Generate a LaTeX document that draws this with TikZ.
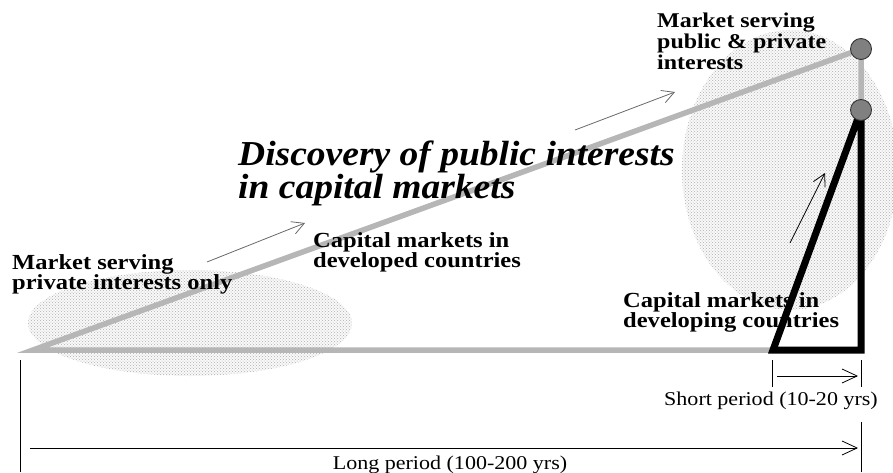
\documentclass[tikz,border=0pt]{standalone}
\usepackage{fontspec}
\setmainfont{Liberation Serif}
\usetikzlibrary{arrows.meta,patterns}
\definecolor{trackgray}{RGB}{182,182,182}
\definecolor{knobgray}{RGB}{128,128,128}
\definecolor{hintgray}{RGB}{105,105,105}
\definecolor{dotgray}{RGB}{175,175,175}
\begin{document}
\begin{tikzpicture}[x=1pt,y=1pt,
    track/.style={line width=5.5pt, color=trackgray},
    knob/.style={circle, draw=black!80, line width=0.9pt, fill=knobgray, minimum size=21pt, inner sep=0pt},
    hint/.style={-{Straight Barb[length=12pt,width=13pt]}, line width=0.8pt},
    measure/.style={line width=0.8pt},
    lab/.style={font=\fontsize{21.5}{20}\selectfont\bfseries, align=left, anchor=base west, inner sep=0pt, xscale=1.14, transform shape},
    per/.style={font=\fontsize{19.5}{20}\selectfont, anchor=base, inner sep=0pt, xscale=1.13, transform shape}]
    \useasboundingbox (0,0) rectangle (893,472);

    % Zone puntinate
    \fill[gray!5] (190,149) ellipse [x radius=162, y radius=53];
    \fill[pattern=crosshatch dots, pattern color=dotgray] (190,149) ellipse [x radius=162, y radius=53];
    \fill[gray!5] (790,302) ellipse [x radius=108, y radius=140];
    \fill[pattern=crosshatch dots, pattern color=dotgray] (790,302) ellipse [x radius=108, y radius=140];

    % Punti
    \coordinate (O) at (33,122);
    \coordinate (C) at (773,122);
    \coordinate (D) at (861,122);
    \coordinate (P) at (861,423);
    \coordinate (Q) at (861,362);

    % Percorso grigio
    \draw[track] (C) -- (O) -- (P) -- (Q);

    % Triangolo nero
    \draw[line width=7pt, miter limit=3] (C) -- (Q) -- (D) -- cycle;

    % Cerchi
    \node[knob] (Pk) at (P) {};
    \node[knob] (Qk) at (Q) {};

    % Frecce sottili
    \coordinate (A1) at (207,210);
    \coordinate (B1) at (305,249);
    \draw[hint, color=hintgray] (A1) -- (B1);
    \coordinate (A2) at (575,342);
    \coordinate (B2) at (675,380);
    \draw[hint, color=hintgray] (A2) -- (B2);
    \coordinate (A3) at (790,229);
    \coordinate (B3) at (825,299);
    \draw[hint] (A3) -- (B3);

    % Testi (base = ultima riga)
    \node[lab] (privtext) at (12,183) {Market serving\\private interests only};
    \node[lab] (devtext) at (313,205) {Capital markets in\\developed countries};
    \node[lab, font=\fontsize{35}{31}\selectfont\bfseries\itshape, xscale=0.94] (disctext) at (238,274) {Discovery of public interests\\in capital markets};
    \node[lab, font=\fontsize{21}{21}\selectfont\bfseries] (pubtext) at (657,402) {Market serving\\public \& private\\interests};
    \node[lab] (devingtext) at (623,145) {Capital markets in\\developing countries};

    % Periodo breve
    \coordinate (S0) at (772,112);
    \coordinate (S1) at (772,85);
    \coordinate (T0) at (861,112);
    \coordinate (T1) at (861,85);
    \draw[measure] (S0) -- (S1);
    \draw[measure] (T0) -- (T1);
    \coordinate (Sa) at (777,96);
    \coordinate (Sb) at (858,96);
    \draw[measure, -{Straight Barb[length=15pt,width=14pt]}] (Sa) -- (Sb);
    \node[per] (shorttext) at (771,67) {Short period (10-20 yrs)};

    % Periodo lungo
    \coordinate (L0) at (20,112);
    \coordinate (L1) at (20,0);
    \coordinate (R0) at (861,50);
    \coordinate (R1) at (861,0);
    \draw[measure] (L0) -- (L1);
    \draw[measure] (R0) -- (R1);
    \coordinate (La) at (30,24);
    \coordinate (Lb) at (858,24);
    \draw[measure, -{Straight Barb[length=15pt,width=14pt]}] (La) -- (Lb);
    \node[per] (longtext) at (450,3) {Long period (100-200 yrs)};
\end{tikzpicture}
\end{document}
